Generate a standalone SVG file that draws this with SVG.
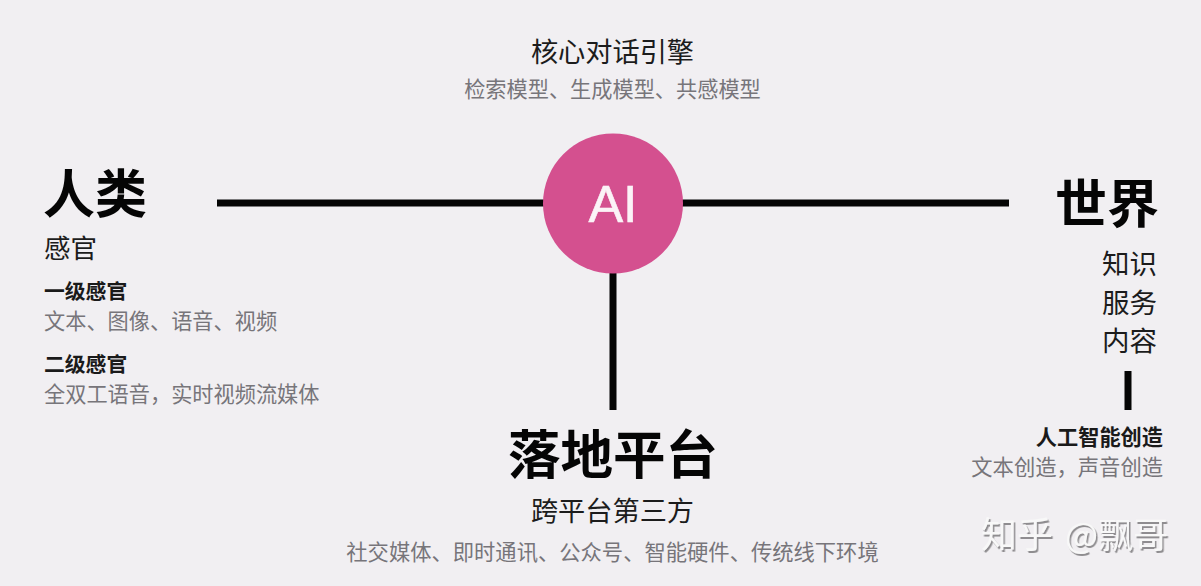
<svg xmlns="http://www.w3.org/2000/svg" width="1201" height="586" viewBox="0 0 1201 586">
<defs>
<filter id="wm" x="-10%" y="-20%" width="120%" height="150%"><feDropShadow dx="1.500" dy="2" stdDeviation="0.700" flood-color="#8f8d90"/></filter>
</defs>
<style>
text{font-family:"Noto Sans CJK SC","Noto Sans",sans-serif;}
.h{font-weight:700;fill:#050505}
.d{fill:#1c1c1c}
.g{fill:#77757a}
.b{font-weight:700;fill:#1a1a1a}
.c{stroke:#050505;stroke-width:7;fill:none}
.m{text-anchor:middle}
.e{text-anchor:end}
</style>
<rect width="1201" height="586" fill="#f1eff2"/>
<g id="connectors">
<line class="c" x1="217" y1="203" x2="545" y2="203"/>
<line class="c" x1="680" y1="203" x2="1009" y2="203"/>
<line class="c" x1="613" y1="270" x2="613" y2="410"/>
<line class="c" x1="1128" y1="371" x2="1128" y2="410"/>
</g>
<g id="ai">
<circle cx="613" cy="203.500" r="70" fill="#d4508f"/>
<text class="m" x="613" y="222" font-size="52" fill="#fbf3f7" stroke="#fbf3f7" stroke-width=".6" style="font-family:'Liberation Sans',sans-serif">AI</text>
</g>
<g id="engine">
<text class="m d" x="612.500" y="62" font-size="27.200">核心对话引擎</text>
<text class="m g" x="612.500" y="97" font-size="21.200">检索模型、生成模型、共感模型</text>
</g>
<g id="human">
<text class="h" x="43" y="213" font-size="52">人类</text>
<text class="d" x="44" y="258" font-size="26.500">感官</text>
<text class="b" x="44" y="299" font-size="20.800">一级感官</text>
<text class="g" x="44" y="329" font-size="21.200">文本、图像、语音、视频</text>
<text class="b" x="44" y="372" font-size="20.800">二级感官</text>
<text class="g" x="44" y="402" font-size="21.200">全双工语音，实时视频流媒体</text>
</g>
<g id="world">
<text class="h e" x="1159" y="223" font-size="52">世界</text>
<text class="d e" x="1157" y="274" font-size="27.500">知识</text>
<text class="d e" x="1157" y="313" font-size="27.500">服务</text>
<text class="d e" x="1157" y="351" font-size="27.500">内容</text>
<text class="b e" x="1163" y="445" font-size="21.200">人工智能创造</text>
<text class="g e" x="1163" y="475" font-size="21.300">文本创造，声音创造</text>
</g>
<g id="platform">
<text class="h m" x="613" y="474" font-size="52.500">落地平台</text>
<text class="d m" x="612.500" y="521" font-size="27.200">跨平台第三方</text>
<text class="g m" x="612.500" y="560" font-size="21.300">社交媒体、即时通讯、公众号、智能硬件、传统线下环境</text>
</g>
<g id="watermark" filter="url(#wm)">
<text x="981" y="548" font-size="36" fill="#f8f8f8" xml:space="preserve">知乎 <tspan font-size="35" dx="4">@飘哥</tspan></text>
</g>
</svg>
